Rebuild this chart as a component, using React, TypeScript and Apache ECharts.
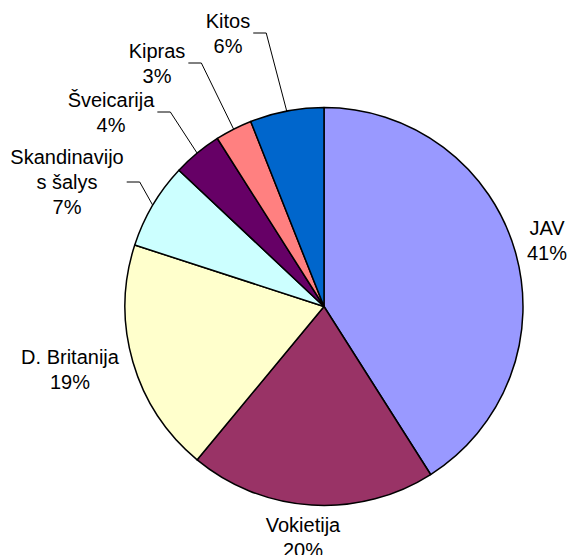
import React, { useEffect, useRef } from 'react';
import * as echarts from 'echarts';

const categories = ['JAV', 'Vokietija', 'D. Britanija', 'Skandinavijos šalys', 'Šveicarija', 'Kipras', 'Kitos'];
const values = [41, 20, 19, 7, 4, 3, 6];
const colors = ['#9999FF', '#993366', '#FFFFCC', '#CCFFFF', '#660066', '#FF8080', '#0066CC'];

// label placement (centre of label block) and whether a leader line is drawn
const labelPos: number[][] = [[547, 240], [303, 537], [70, 369], [67, 182], [111, 112], [157, 63], [228, 33]];
const withLeader = [false, false, false, true, true, true, true];

export default function App() {
  const ref = useRef<HTMLDivElement>(null);
  useEffect(() => {
    if (!ref.current) return;
    const chart = echarts.init(ref.current, null, { renderer: 'svg' });
    chart.setOption({
      animation: false,
      backgroundColor: '#ffffff',
      series: [
        {
          type: 'pie',
          center: [324, 306.5],
          radius: 199,
          startAngle: 90,
          clockwise: true,
          avoidLabelOverlap: false,
          emphasis: { disabled: true },
          itemStyle: { borderColor: '#000000', borderWidth: 1.5 },
          label: {
            show: true,
            position: 'outside',
            color: '#000000',
            fontFamily: 'Liberation Sans, Arial, sans-serif',
            fontSize: 20,
            lineHeight: 25,
            align: 'center',
            formatter: (p: any) => {
              const name = p.name === 'Skandinavijos šalys' ? 'Skandinavijo\ns šalys' : p.name;
              return name + '\n' + p.value + '%';
            },
          },
          labelLine: { show: true, lineStyle: { color: '#000000', width: 1 } },
          labelLayout: (p: any) => {
            const i = p.dataIndex;
            const [x, y] = labelPos[i];
            const res: any = { x, y, align: 'center', verticalAlign: 'middle' };
            if (withLeader[i] && p.labelLinePoints && p.labelLinePoints[0]) {
              const p0 = p.labelLinePoints[0];
              const sx = x + p.labelRect.width / 2 + 3;
              res.labelLinePoints = [p0, [sx + 13, y], [sx, y]];
            }
            return res;
          },
          data: categories.map((name, i) => ({
            name,
            value: values[i],
            itemStyle: { color: colors[i] },
            labelLine: { show: withLeader[i] },
          })),
        },
      ],
    });
    return () => chart.dispose();
  }, []);
  return (
    <div
      ref={ref}
      style={{ position: 'fixed', left: 0, top: 0, width: 570, height: 555, background: '#fff' }}
    />
  );
}
